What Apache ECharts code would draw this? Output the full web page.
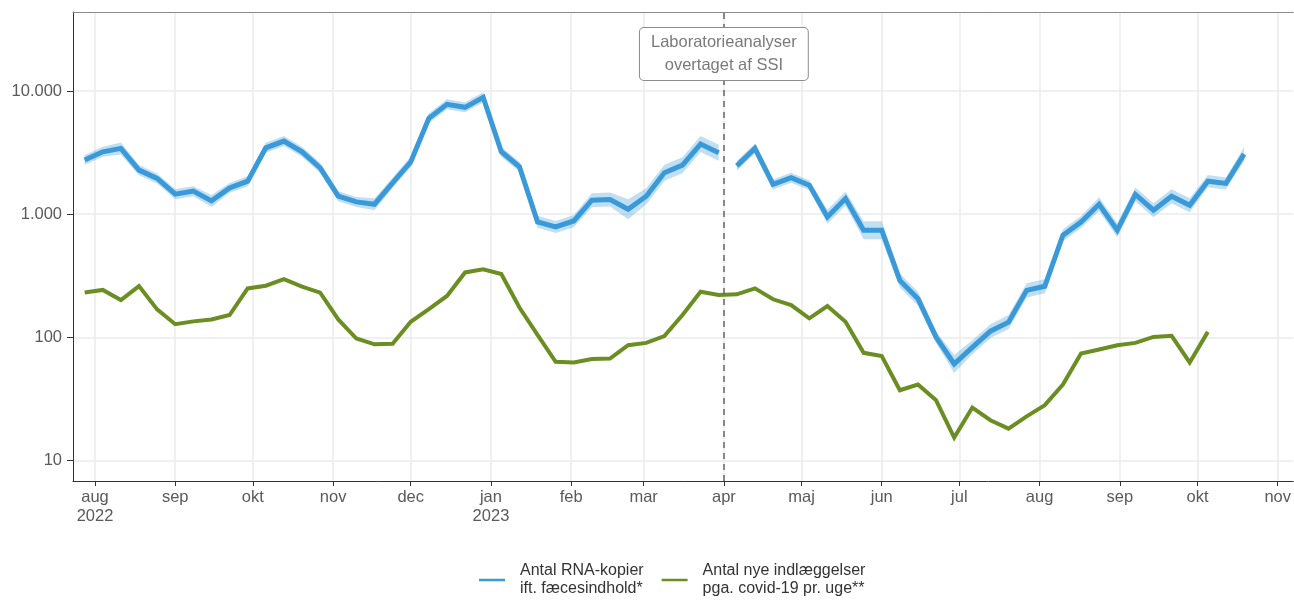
<!DOCTYPE html>
<html><head><meta charset="utf-8">
<script src="https://cdn.jsdelivr.net/npm/echarts@6/dist/echarts.min.js"></script>
<style>html,body{margin:0;padding:0;background:#fff}#c{width:1294px;height:600px}</style>
</head><body><div id="c"></div>
<script>
// ---- data ----
const weeks = ['2022-07-28','2022-08-04','2022-08-11','2022-08-18','2022-08-25','2022-09-01','2022-09-08','2022-09-15','2022-09-22','2022-09-29',
  '2022-10-06','2022-10-13','2022-10-20','2022-10-27','2022-11-03','2022-11-10','2022-11-17','2022-11-24','2022-12-01','2022-12-08',
  '2022-12-15','2022-12-22','2022-12-29','2023-01-05','2023-01-12','2023-01-19','2023-01-26','2023-02-02','2023-02-09','2023-02-16',
  '2023-02-23','2023-03-02','2023-03-09','2023-03-16','2023-03-23','2023-03-30','2023-04-06','2023-04-13','2023-04-20','2023-04-27',
  '2023-05-04','2023-05-11','2023-05-18','2023-05-25','2023-06-01','2023-06-08','2023-06-15','2023-06-22','2023-06-29','2023-07-06',
  '2023-07-13','2023-07-20','2023-07-27','2023-08-03','2023-08-10','2023-08-17','2023-08-24','2023-08-31','2023-09-07','2023-09-14',
  '2023-09-21','2023-09-28','2023-10-05','2023-10-12','2023-10-19'];
const rnaValues = [2750,3210,3420,2280,1950,1455,1540,1283,1636,1855,
  3460,3920,3210,2377,1400,1259,1205,1798,2660,5995,
  7800,7370,8890,3210,2425,865,788,881,1300,1316,
  1098,1400,2170,2500,3710,3150,2470,3420,1746,1977,
  1722,951,1341,741,741,290,206,100.5,61,83,
  112.5,133,241,260,675,865,1205,741,1446,1078,
  1400,1183,1855,1778,3075];
const rnaLower = [2505,2925,3055,2075,1775,1325,1400,1145,1490,1690,
  3150,3570,2925,2165,1275,1145,1075,1640,2420,5460,
  7105,6710,8095,2925,2210,775,705,785,1140,1155,
  910,1205,1870,2150,3195,2710,2250,3115,1590,1800,
  1570,835,1175,625,625,254,181,90,51.5,73,
  99,117,211,228,603,773,1057,650,1268,946,
  1228,1038,1658,1589,2697];
const rnaUpper = [3020,3525,3825,2505,2140,1600,1690,1435,1795,2035,
  3800,4305,3525,2610,1535,1380,1350,1975,2920,6580,
  8565,8090,9760,3525,2665,970,880,985,1480,1500,
  1325,1625,2520,2905,4310,3660,2710,3755,1915,2170,
  1890,1085,1530,875,875,331,235,112,72,95,
  128,152,275,296,755,968,1374,845,1648,1229,
  1596,1349,2076,1990,3506];
const admissions = [232,243,201,261,169,128,135,140,152,250,
  263,297,258,231,140,98,88,89,134,170,
  217,337,357,327,175,105,63.4,62.7,66.7,67.4,
  86.5,90.3,102.5,152,235,221,224,250,204,183,
  143,180,134,75,70.5,37.3,41.5,30.9,15.4,27,
  21.3,18.2,22.9,28.2,41.5,74.1,79.8,86.5,90.3,101,
  103,62.7,111];
const breakIndex = 36;           // first week analysed by SSI
const breakDate = '2023-04-01';
const monthNames = ['jan','feb','mar','apr','maj','jun','jul','aug','sep','okt','nov','dec'];
const firstMonthTick = '2022-08-01';
const yTicks = [10, 100, 1000, 10000];
const seriesNames = ['Antal RNA-kopier\nift. fæcesindhold*', 'Antal nye indlæggelser\npga. covid-19 pr. uge**'];
const annotationText = 'Laboratorieanalyser\novertaget af SSI';

// ---- helpers ----
const DAY = 86400000;
function t(s){ const p = s.split('-').map(Number); return new Date(p[0], p[1]-1, p[2]).getTime(); }
function fmtNum(v){ return String(Math.round(v)).replace(/\B(?=(\d{3})+(?!\d))/g, '.'); }
const weekT = weeks.map(t);
function pairs(vals, from, to){ const out=[]; for(let i=from;i<to;i++) out.push([weekT[i], vals[i]]); return out; }
function diffPairs(from, to){ const out=[]; for(let i=from;i<to;i++) out.push([weekT[i], rnaUpper[i]-rnaLower[i]]); return out; }

const BLUE = '#3a9ad9', GREEN = '#6b8e23', BAND = 'rgba(58,154,217,0.32)';
const FONT = 'Liberation Sans';
const n = weeks.length;
const X_MIN = t('2022-07-23') + DAY/2, X_MAX = t('2023-11-07');

function bandSeries(from, to, key){
  return [
    {type:'line', data: pairs(rnaLower, from, to), stack: key, symbol:'none', silent:true,
     lineStyle:{opacity:0}, z:1},
    {type:'line', data: diffPairs(from, to), stack: key, symbol:'none', silent:true,
     lineStyle:{opacity:0}, areaStyle:{color: BAND, opacity:1}, z:1}
  ];
}
function rnaLine(from, to){
  return {type:'line', name: seriesNames[0], data: pairs(rnaValues, from, to), symbol:'none',
    lineStyle:{color: BLUE, width:5, cap:'butt', join:'miter'}, itemStyle:{color: BLUE}, z:3};
}

const chart = echarts.init(document.getElementById('c'), null, {renderer:'canvas'});
const option = {
  animation:false,
  backgroundColor:'#ffffff',
  textStyle:{fontFamily: FONT},
  grid:{left:73, top:12, right:0, bottom:119},
  xAxis:[{
    type:'time', min: X_MIN, max: X_MAX,
    splitNumber:16, minInterval: 28*DAY, maxInterval: 31*DAY,
    axisLine:{show:true, lineStyle:{color:'#333333', width:1}},
    axisTick:{show:true, length:5, lineStyle:{color:'#333333', width:1}},
    axisLabel:{color:'#5a5a5a', fontSize:16.5, lineHeight:19, margin:7, fontFamily: FONT,
      showMinLabel:false, showMaxLabel:false, hideOverlap:false,
      formatter: function(v){ const d = new Date(v); let s = monthNames[d.getMonth()];
        if (d.getMonth()===0 || v===t(firstMonthTick)) s += '\n' + d.getFullYear(); return s; }},
    splitLine:{show:true, showMinLine:false, showMaxLine:false, lineStyle:{color:'#ebebeb', width:1.5}}
  },{
    type:'time', min: X_MIN, max: X_MAX, position:'top',
    axisLine:{show:true, lineStyle:{color:'#8a8a8a', width:1}},
    axisTick:{show:false}, axisLabel:{show:false}, splitLine:{show:false}
  }],
  yAxis:{
    type:'log', logBase:10, min: 6.84, max: 43750,
    axisLine:{show:true, lineStyle:{color:'#333333', width:1}},
    axisTick:{show:true, customValues: yTicks, length:6, lineStyle:{color:'#333333', width:1}},
    axisLabel:{customValues: yTicks, color:'#5a5a5a', fontSize:16.5, margin:11, fontFamily: FONT, formatter: fmtNum},
    splitLine:{show:true, lineStyle:{color:'#ebebeb', width:1.5}},
    minorSplitLine:{show:false}
  },
  legend:{
    data: seriesNames, left:474, top:557, orient:'horizontal',
    icon:'rect', itemWidth:26, itemHeight:2.5, itemGap:18,
    textStyle:{fontSize:16, color:'#333333', lineHeight:18, fontFamily: FONT, padding:[0,0,0,10]}
  },
  series: [
    ...bandSeries(0, breakIndex, 'bandA'),
    ...bandSeries(breakIndex, n, 'bandB'),
    rnaLine(0, breakIndex),
    rnaLine(breakIndex, n),
    {type:'line', name: seriesNames[1], data: pairs(admissions, 0, admissions.length), symbol:'none',
     lineStyle:{color: GREEN, width:4, join:'miter'}, itemStyle:{color: GREEN}, z:3,
     markLine:{silent:true, symbol:['none','none'], label:{show:false},
       lineStyle:{color:'#666666', type:[6,5], width:1.5},
       data:[{xAxis: t(breakDate)}]}}
  ]
};
chart.setOption(option);
const cx = chart.convertToPixel({xAxisIndex:0}, t(breakDate));
chart.setOption({graphic:[{
  type:'text', z:100, x: cx, y: 54,
  style:{text: annotationText, align:'center', verticalAlign:'middle', fill:'#7a7a7a',
    font: '16.5px "Liberation Sans"', lineHeight:23, backgroundColor:'#ffffff',
    borderColor:'#8c8c8c', borderWidth:1, borderRadius:4, padding:[3,11]}
}]});
</script>
</body></html>
